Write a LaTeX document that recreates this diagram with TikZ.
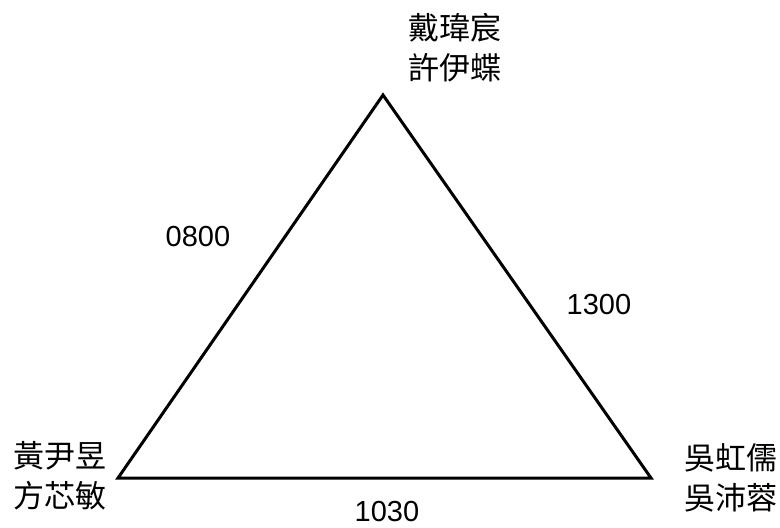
\documentclass[tikz,border=0pt]{standalone}
\usepackage{fontspec}
\setmainfont{Liberation Sans}
\newfontfamily\cjk{Noto Sans CJK TC}
\usepackage{tikz}
\usetikzlibrary{positioning}

\begin{document}
\begin{tikzpicture}[x=1pt, y=-1pt,
  person/.style={font=\cjk\fontsize{31}{40}\selectfont, align=center, inner sep=0pt},
  num/.style={font=\fontsize{29}{32}\selectfont, inner sep=0pt}]
  \useasboundingbox (0,0) rectangle (780,528);
  \coordinate (T) at (383,95);
  \coordinate (L) at (118,478);
  \coordinate (R) at (651,478);
  \draw[line width=3pt, line join=miter] (T) -- (R) -- (L) -- cycle;
  \node[person] (Tname) at (455,48) {戴瑋宸\\許伊蝶};
  \node[person] (Lname) at (60,476) {黃尹昱\\方芯敏};
  \node[person] (Rname) at (731,478) {吳虹儒\\吳沛蓉};
  \node[num] (TL) at (198,237) {0800};
  \node[num] (TR) at (599,305) {1300};
  \node[num] (LR) at (387,512) {1030};
\end{tikzpicture}
\end{document}
